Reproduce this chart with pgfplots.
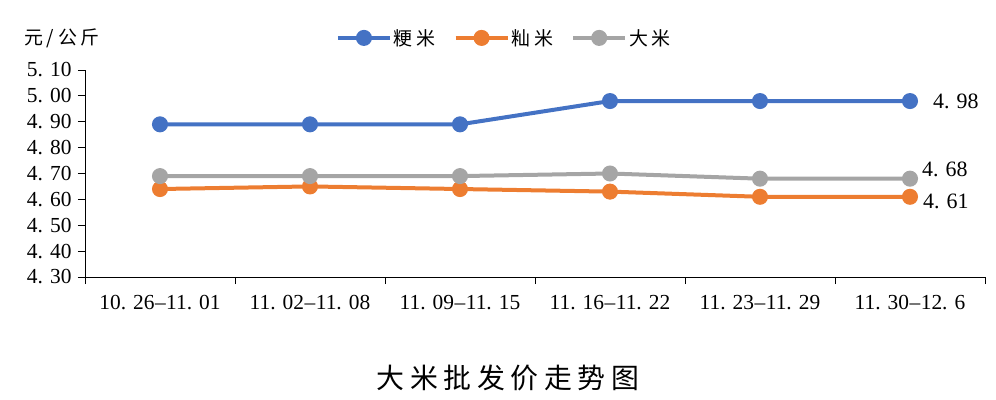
\documentclass[border=0pt]{standalone}
\usepackage{pgfplots}
\pgfplotsset{compat=1.18}
\usepackage{fontspec}
\setmainfont{Liberation Serif}
\newfontfamily\cjk{Noto Sans CJK SC}
\newfontfamily\cjkw[LetterSpace=20]{Noto Sans CJK SC}
\definecolor{cblue}{HTML}{4472C4}
\definecolor{corange}{HTML}{ED7D31}
\definecolor{cgray}{HTML}{A5A5A5}
\newcommand{\pt}{.\hspace{7bp}}
\newcommand{\dd}{\hspace{0.5bp}–\hspace{0.5bp}}
\begin{document}
\begin{tikzpicture}
\begin{axis}[
  scale only axis, width=900bp, height=207bp,
  xmin=-0.5, xmax=5.5, ymin=4.3, ymax=5.1,
  clip=false,
  axis x line*=bottom, axis y line*=left,
  axis line style={black, line width=0.8bp, -},
  xtick={-0.5,0.5,1.5,2.5,3.5,4.5,5.5},
  x tick label as interval,
  xticklabels={10\pt26\dd11\pt01,11\pt02\dd11\pt08,11\pt09\dd11\pt15,11\pt16\dd11\pt22,11\pt23\dd11\pt29,11\pt30\dd12\pt6},
  ytick={4.3,4.4,4.5,4.6,4.7,4.8,4.9,5.0,5.1},
  yticklabels={4\pt30,4\pt40,4\pt50,4\pt60,4\pt70,4\pt80,4\pt90,5\pt00,5\pt10},
  tick style={black, line width=0.8bp},
  major tick length=7bp,
  tick align=outside,
  yticklabel style={font=\fontsize{21.5}{21.5}\selectfont, xshift=-3bp},
  xticklabel style={font=\fontsize{21.5}{21.5}\selectfont, yshift=-8bp},
  legend style={at={(0.466,1.155)}, anchor=center, draw=none, fill=none,
    legend columns=3, font=\cjkw\fontsize{19}{19}\selectfont,
    /tikz/every even column/.append style={column sep=16bp}},
  legend image code/.code={\draw[mark repeat=2,mark phase=2,#1] plot coordinates {(0bp,0bp)(26bp,0bp)(52bp,0bp)};},
  every axis plot/.append style={line width=4bp, mark=*, mark size=6bp, mark options={solid}},
]
\addplot[color=cblue, mark options={fill=cblue, draw=cblue}] coordinates {(0,4.89)(1,4.89)(2,4.89)(3,4.98)(4,4.98)(5,4.98)};
\addlegendentry{粳米}
\addplot[color=corange, mark options={fill=corange, draw=corange}] coordinates {(0,4.64)(1,4.65)(2,4.64)(3,4.63)(4,4.61)(5,4.61)};
\addlegendentry{籼米}
\addplot[color=cgray, mark options={fill=cgray, draw=cgray}] coordinates {(0,4.69)(1,4.69)(2,4.69)(3,4.70)(4,4.68)(5,4.68)};
\addlegendentry{大米}
\node[font=\fontsize{22}{22}\selectfont, anchor=west, inner sep=0pt] at (axis cs:5,4.98) [xshift=23bp, yshift=0bp] {4\pt98};
\node[font=\fontsize{22}{22}\selectfont, anchor=west, inner sep=0pt] at (axis cs:5,4.68) [xshift=12bp, yshift=9bp] {4\pt68};
\node[font=\fontsize{22}{22}\selectfont, anchor=west, inner sep=0pt] at (axis cs:5,4.61) [xshift=13bp, yshift=-5bp] {4\pt61};
\node[font=\cjkw\fontsize{19}{19}\selectfont] at (rel axis cs:0,1) [xshift=-23bp, yshift=32bp] {元/公斤};
\node[font=\cjkw\fontsize{28}{28}\selectfont] at (rel axis cs:0.47,0) [yshift=-101bp] {大米批发价走势图};
\end{axis}
\path[use as bounding box] (-85bp,-123bp) rectangle (911bp,277bp);
\end{tikzpicture}
\end{document}
